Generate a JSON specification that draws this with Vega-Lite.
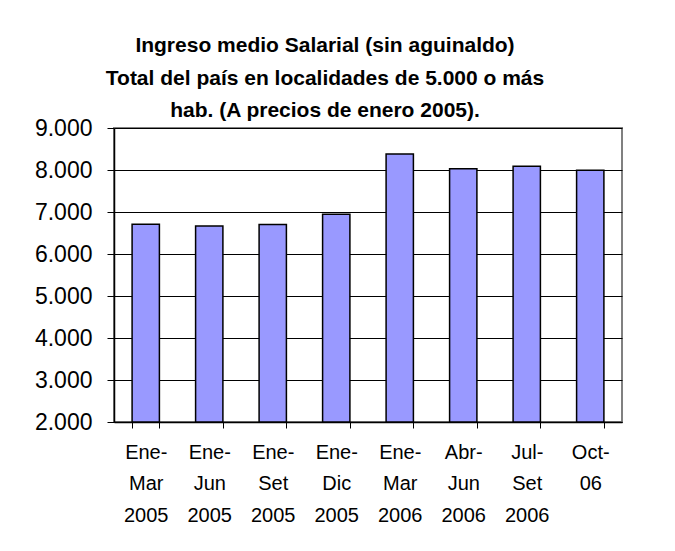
{
  "$schema": "https://vega.github.io/schema/vega-lite/v6.json",
  "autosize": "none",
  "width": 508,
  "height": 294,
  "padding": {"left": 114, "top": 128, "right": 53, "bottom": 129},
  "background": "white",
  "title": {
    "text": ["Ingreso medio Salarial (sin aguinaldo)", "Total del país en localidades de 5.000 o más", "hab. (A precios de enero 2005)."],
    "font": "Liberation Sans",
    "fontSize": 21,
    "fontWeight": "bold",
    "color": "black",
    "lineHeight": 32.5,
    "anchor": "middle",
    "dx": -43,
    "offset": -4
  },
  "data": {
    "values": [
      {"periodo": "Ene-|Mar|2005", "valor": 6707},
      {"periodo": "Ene-|Jun|2005", "valor": 6667},
      {"periodo": "Ene-|Set|2005", "valor": 6705},
      {"periodo": "Ene-|Dic|2005", "valor": 6945},
      {"periodo": "Ene-|Mar|2006", "valor": 8381},
      {"periodo": "Abr-|Jun|2006", "valor": 8032},
      {"periodo": "Jul-|Set|2006", "valor": 8087},
      {"periodo": "Oct-|06", "valor": 7992}
    ]
  },
  "mark": {"type": "bar", "color": "#9999FF", "stroke": "black", "strokeWidth": 1.5},
  "encoding": {
    "x": {
      "field": "periodo",
      "type": "nominal",
      "sort": null,
      "scale": {"paddingInner": 0.57, "paddingOuter": 0.285},
      "axis": {
        "title": null,
        "labelAngle": 0,
        "labelExpr": "split(datum.label, '|')",
        "labelFont": "Liberation Sans",
        "labelFontSize": 20,
        "labelColor": "black",
        "labelLineHeight": 31.5,
        "labelBaseline": "top",
        "labelPadding": 14,
        "tickBand": "extent",
        "tickSize": 6,
        "tickColor": "black",
        "domainColor": "black",
        "domainWidth": 1.5
      }
    },
    "y": {
      "field": "valor",
      "type": "quantitative",
      "scale": {"domain": [2000, 9000], "nice": false, "zero": false},
      "axis": {
        "title": null,
        "values": [2000, 3000, 4000, 5000, 6000, 7000, 8000, 9000],
        "labelExpr": "replace(format(datum.value, ',d'), ',', '.')",
        "labelFont": "Liberation Sans",
        "labelFontSize": 23,
        "labelColor": "black",
        "labelPadding": 15,
        "tickSize": 7,
        "tickColor": "black",
        "domainColor": "black",
        "domainWidth": 1.5,
        "grid": true,
        "gridColor": "black",
        "gridWidth": 1
      }
    },
    "y2": {"datum": 2000}
  },
  "config": {
    "view": {"stroke": "#808080", "strokeWidth": 2}
  }
}
